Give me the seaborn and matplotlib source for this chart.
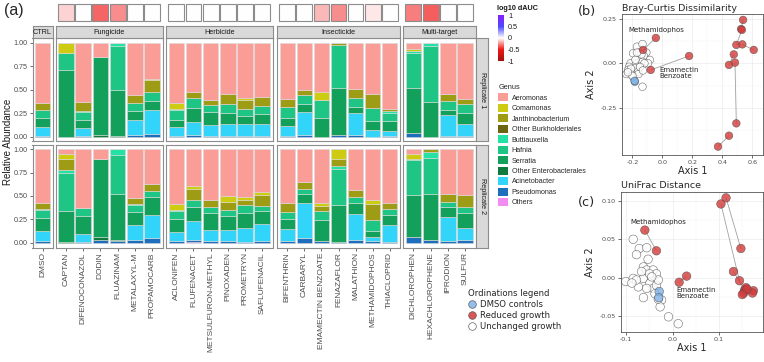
import numpy as np
import pandas as pd
import seaborn as sns
import matplotlib.pyplot as plt
from matplotlib.colors import LinearSegmentedColormap, Normalize
from matplotlib.cm import ScalarMappable
from matplotlib.patches import Patch
from matplotlib.lines import Line2D

sns.set_theme(style='white')
plt.rcParams['font.family'] = ['Liberation Sans', 'DejaVu Sans']

W, H = 764, 362


def box(x0, y0, x1, y1):
    # pixel box (top-left origin) -> figure fraction
    return [x0 / W, 1 - y1 / H, (x1 - x0) / W, (y1 - y0) / H]


# ---------------- (a) data ----------------
groups = ['CTRL', 'Fungicide', 'Herbicide', 'Insecticide', 'Multi-target']
group_sizes = [1, 6, 6, 7, 4]
compounds = ['DMSO',
             'CAPTAN', 'DIFENOCONAZOL', 'DODIN', 'FLUAZINAM', 'METALAXYL-M', 'PROPAMOCARB',
             'ACLONIFEN', 'FLUFENACET', 'METSULFURON-METHYL', 'PINOXADEN', 'PROMETRYN', 'SAFLUFENACIL',
             'BIFENTHRIN', 'CARBARYL', 'EMAMECTIN BENZOATE', 'FENAZAFLOR', 'MALATHION', 'METHAMIDOPHOS', 'THIACLOPRID',
             'DICHLOROPHEN', 'HEXACHLOROPHENE', 'IPRODION', 'SULFUR']

genera = ['Aeromonas', 'Comamonas', 'Janthinobacterium', 'Other Burkholderiales',
          'Buttiauxella', 'Hafnia', 'Serratia', 'Other Enterobacterales',
          'Acinetobacter', 'Pseudomonas', 'Others']
genus_colors = ['#F99D96', '#CDCB12', '#9E9B14', '#6B6412',
                '#24E2A6', '#1FC585', '#13A05B', '#0E7A3C',
                '#33D4FA', '#1D6FBE', '#F28CF0']

# replicate 1 (one value per compound, same order as `compounds`)
aeromonas_r1 = [0.64, 0, 0.63, 0.15, 0, 0.56, 0.39, 0.645, 0.52, 0.61, 0.55, 0.59, 0.58,
                0.60, 0.50, 0.52, 0, 0.49, 0.54, 0.70, 0.07, 0, 0.55, 0.60]
comamonas_r1 = [0, 0.11, 0, 0, 0, 0, 0.01, 0.06, 0, 0, 0, 0.02, 0,
                0, 0, 0.09, 0, 0, 0, 0, 0.02, 0, 0, 0]
janthino_r1 = [0.07, 0, 0.10, 0, 0, 0.08, 0.12, 0, 0.07, 0.05, 0.10, 0.09, 0.09,
               0.08, 0.06, 0, 0.02, 0.10, 0.15, 0.03, 0, 0, 0.07, 0.05]
otherburk_r1 = [0] * 24
buttiaux_r1 = [0.01, 0, 0.01, 0, 0.03, 0, 0, 0.005, 0, 0, 0, 0, 0,
               0, 0, 0, 0.005, 0, 0, 0.015, 0.02, 0.035, 0, 0]
hafnia_r1 = [0.08, 0.18, 0.08, 0, 0.47, 0.09, 0.10, 0.11, 0.10, 0.08, 0.10, 0.08, 0.09,
             0.12, 0.09, 0.19, 0.455, 0.09, 0.145, 0.09, 0.37, 0.595, 0.09, 0.10]
serratia_r1 = [0.10, 0.71, 0.09, 0.83, 0.49, 0.09, 0.10, 0.08, 0.15, 0.13, 0.11, 0.08, 0.10,
               0.085, 0.09, 0.20, 0.50, 0.07, 0.095, 0.105, 0.48, 0.37, 0.06, 0.115]
otherent_r1 = [0, 0, 0, 0.02, 0.01, 0, 0, 0, 0, 0, 0, 0, 0,
               0, 0, 0, 0, 0, 0, 0, 0, 0, 0, 0]
acineto_r1 = [0.09, 0, 0.085, 0, 0, 0.165, 0.255, 0.09, 0.14, 0.125, 0.13, 0.135, 0.13,
              0.11, 0.24, 0, 0, 0.235, 0.07, 0.055, 0, 0, 0.22, 0.125]
pseudo_r1 = [0.01, 0, 0.005, 0, 0, 0.015, 0.025, 0.01, 0.02, 0.005, 0.01, 0.005, 0.01,
             0.005, 0.02, 0, 0.02, 0.015, 0, 0.005, 0.04, 0, 0.01, 0.01]
others_r1 = [0] * 24

# replicate 2
aeromonas_r2 = [0.58, 0.05, 0.63, 0.11, 0, 0.52, 0.37, 0.59, 0.395, 0.54, 0.50, 0.51, 0.455,
                0.58, 0.35, 0.57, 0, 0.435, 0.54, 0.57, 0.05, 0, 0.48, 0.49]
comamonas_r2 = [0, 0.05, 0, 0, 0, 0, 0, 0.06, 0.035, 0, 0.06, 0.03, 0.035,
                0, 0, 0.04, 0.10, 0, 0.045, 0, 0.06, 0, 0, 0]
janthino_r2 = [0.06, 0.12, 0, 0, 0, 0.07, 0.08, 0, 0.115, 0.08, 0.09, 0.06, 0.12,
               0.09, 0.075, 0.05, 0.08, 0.08, 0.17, 0.07, 0, 0.025, 0.08, 0.13]
otherburk_r2 = [0] * 24
buttiaux_r2 = [0.01, 0.03, 0, 0, 0.06, 0.01, 0, 0.01, 0, 0, 0, 0, 0,
               0, 0, 0, 0.03, 0, 0, 0, 0.01, 0.065, 0, 0]
hafnia_r2 = [0.08, 0.41, 0.08, 0, 0.42, 0.07, 0.06, 0.09, 0.075, 0.065, 0.06, 0.08, 0.05,
             0.08, 0.055, 0.10, 0.39, 0.065, 0.115, 0.06, 0.37, 0.39, 0.055, 0.06]
serratia_r2 = [0.14, 0.33, 0.20, 0.83, 0.49, 0.14, 0.19, 0.13, 0.15, 0.175, 0.15, 0.16, 0.14,
               0.105, 0.10, 0.22, 0.395, 0.115, 0.07, 0.11, 0.45, 0.49, 0.11, 0.16]
otherent_r2 = [0, 0.01, 0, 0.03, 0.01, 0, 0, 0, 0, 0, 0, 0, 0,
               0, 0, 0, 0, 0, 0, 0, 0, 0, 0, 0]
acineto_r2 = [0.11, 0, 0.085, 0, 0, 0.16, 0.25, 0.10, 0.20, 0.12, 0.125, 0.15, 0.18,
              0.13, 0.365, 0, 0, 0.275, 0.04, 0.18, 0, 0, 0.255, 0.135]
pseudo_r2 = [0.02, 0, 0.005, 0.03, 0.02, 0.03, 0.05, 0.02, 0.02, 0.02, 0.015, 0.01, 0.02,
             0.015, 0.055, 0.02, 0.005, 0.03, 0.02, 0.01, 0.06, 0.03, 0.02, 0.025]
others_r2 = [0, 0, 0, 0, 0, 0, 0, 0, 0.01, 0, 0, 0, 0,
             0, 0, 0, 0, 0, 0, 0, 0, 0, 0, 0]

# log10 dAUC per compound (DMSO has no tile)
dauc = [np.nan, -0.10, 0, -0.33, -0.25, 0, 0, 0, 0, 0, 0, 0, 0,
        0, 0, -0.15, -0.25, 0, -0.05, 0, -0.28, -0.35, 0, 0]

# ---------------- (b) / (c) data ----------------
# reduced-growth points are listed as replicate pairs
bc_red_x = [-0.044, -0.129, 0.178, -0.078, 0.538, 0.525, 0.530, 0.493,
            0.609, 0.533, 0.484, 0.493, 0.371, 0.444, 0.476, 0.444]
bc_red_y = [0.142, 0.075, 0.041, -0.037, 0.243, 0.192, 0.187, 0.103,
            0.075, 0.106, 0.004, -0.336, -0.466, -0.405, 0.050, -0.009]
bc_ctrl_x = [-0.184, -0.186]
bc_ctrl_y = [-0.103, -0.098]
bc_unch_x = [-0.170, -0.133, -0.196, -0.156, -0.107, -0.124, -0.084, -0.213, -0.173, -0.133,
             -0.096, -0.222, -0.184, -0.147, -0.240, -0.200, -0.162, -0.133, -0.195, -0.229,
             -0.140, -0.180, -0.210, -0.120, -0.160, -0.200, -0.230, -0.150, -0.170, -0.130]
bc_unch_y = [0.093, 0.108, 0.056, 0.060, 0.060, 0.041, 0.019, 0.000, 0.000, 0.009,
             0.000, -0.019, -0.028, -0.019, -0.060, -0.060, -0.047, -0.131, -0.075, -0.037,
             0.050, 0.020, -0.030, 0.000, -0.060, -0.070, -0.050, -0.020, 0.060, -0.040]

uf_red_x = [-0.060, -0.035, 0.014, 0.030, 0.115, 0.147, 0.104, 0.144,
            0.131, 0.155, 0.158, 0.174, 0.153, 0.172, 0.160, 0.150]
uf_red_y = [0.062, 0.035, -0.006, 0.002, 0.104, 0.038, 0.096, -0.004,
            0.008, -0.016, -0.013, -0.017, -0.020, -0.020, -0.015, -0.022]
uf_ctrl_x = [-0.029, -0.030]
uf_ctrl_y = [-0.018, -0.026]
uf_unch_x = [-0.085, -0.072, -0.056, -0.078, -0.053, -0.063, -0.056, -0.042, -0.035, -0.101,
             -0.085, -0.063, -0.074, -0.063, -0.049, -0.042, -0.035, -0.031, -0.050, -0.024,
             -0.027, -0.009, 0.012, -0.045, -0.067, -0.056, -0.038, -0.078, -0.088, -0.031]
uf_unch_y = [0.050, 0.038, 0.039, 0.030, 0.024, 0.014, 0.010, 0.010, 0.005, -0.005,
             -0.001, -0.001, -0.012, -0.026, -0.007, -0.014, -0.010, -0.003, 0.005, -0.029,
             -0.038, -0.051, -0.060, 0.001, 0.008, -0.014, -0.021, -0.003, -0.007, -0.028]

# ---------------- build tables ----------------
rep1 = [aeromonas_r1, comamonas_r1, janthino_r1, otherburk_r1, buttiaux_r1, hafnia_r1,
        serratia_r1, otherent_r1, acineto_r1, pseudo_r1, others_r1]
rep2 = [aeromonas_r2, comamonas_r2, janthino_r2, otherburk_r2, buttiaux_r2, hafnia_r2,
        serratia_r2, otherent_r2, acineto_r2, pseudo_r2, others_r2]
comp_group = list(np.repeat(groups, group_sizes))
comp_pos = [i for n in group_sizes for i in range(n)]

rows = []
for rep, table in (('Replicate 1', rep1), ('Replicate 2', rep2)):
    for g, vals in zip(genera, table):
        for c, grp, p, v in zip(compounds, comp_group, comp_pos, vals):
            rows.append((rep, g, c, grp, p, v))
df = pd.DataFrame(rows, columns=['rep', 'genus', 'compound', 'group', 'pos', 'value'])

cmap = LinearSegmentedColormap.from_list(
    'dauc', [(0, '#A50F0F'), (0.25, '#F01818'), (0.5, '#FFFFFF'), (0.75, '#4B4BFF'), (1, '#8A1CFF')])
norm = Normalize(-1, 1)

fig = plt.figure(figsize=(W / 100, H / 100), dpi=100)

facet_x = [(32.5, 52.5), (55.5, 162.5), (166, 272.5), (277, 400), (403, 475.5)]
rep_y = {'Replicate 1': (38, 141.5), 'Replicate 2': (144.5, 247.5)}
edge_col = '#8c8c8c'
txt_col = '#4d4d4d'

for ri, rep in enumerate(['Replicate 1', 'Replicate 2']):
    y0, y1 = rep_y[rep]
    for fi, grp in enumerate(groups):
        x0, x1 = facet_x[fi]
        n = group_sizes[fi]
        ax = fig.add_axes(box(x0, y0, x1, y1))
        sub = df[(df['rep'] == rep) & (df['group'] == grp)]
        sns.histplot(data=sub, x='pos', hue='genus', weights='value', hue_order=genera,
                     palette=genus_colors, multiple='stack', discrete=True, shrink=0.9,
                     alpha=1, edgecolor='#d9d9d9', linewidth=0.4, legend=False, ax=ax)
        ax.set_xlim(-0.6, n - 0.4)
        ax.set_ylim(-0.05, 1.05)
        ax.set_xlabel('')
        ax.set_ylabel('')
        for s in ax.spines.values():
            s.set_color(edge_col)
            s.set_linewidth(0.8)
        ax.set_yticks([0, 0.25, 0.5, 0.75, 1.0])
        if fi == 0:
            ax.set_yticklabels(['0.00', '0.25', '0.50', '0.75', '1.00'])
            ax.tick_params(axis='y', left=True, length=2, width=0.5, color='#333333',
                           labelsize=5.2, labelcolor=txt_col, pad=1.5)
        else:
            ax.tick_params(axis='y', left=False, labelleft=False)
        ax.set_xticks(range(n))
        if ri == 1:
            names = [c for c, g in zip(compounds, comp_group) if g == grp]
            ax.set_xticklabels(names, rotation=90, va='top', ha='center')
            ax.tick_params(axis='x', bottom=True, length=2, width=0.5, color='#333333',
                           labelsize=6, labelcolor=txt_col, pad=1.5)
        else:
            ax.tick_params(axis='x', bottom=False, labelbottom=False)

        if ri == 0:
            # facet strip
            sax = fig.add_axes(box(x0, 26, x1, 38))
            sax.set_facecolor('#D9D9D9')
            sax.set_xticks([])
            sax.set_yticks([])
            for s in sax.spines.values():
                s.set_color(edge_col)
                s.set_linewidth(0.8)
            sax.text(0.5, 0.5, grp, ha='center', va='center', fontsize=5.2,
                     color='#1a1a1a', transform=sax.transAxes)
            # dAUC tiles
            if grp != 'CTRL':
                vals = [v for v, g in zip(dauc, comp_group) if g == grp]
                tax = fig.add_axes(box(x0, 3.5, x1, 20.5))
                tax.bar(range(n), [1] * n, width=0.92, bottom=0, color=cmap(norm(vals)),
                        edgecolor='#8c8c8c', linewidth=0.8, clip_on=False)
                tax.set_xlim(-0.6, n - 0.4)
                tax.set_ylim(0, 1)
                tax.axis('off')

    # replicate strip
    rax = fig.add_axes(box(476.5, y0, 488, y1))
    rax.set_facecolor('#D9D9D9')
    rax.set_xticks([])
    rax.set_yticks([])
    for s in rax.spines.values():
        s.set_color(edge_col)
        s.set_linewidth(0.8)
    rax.text(0.5, 0.5, rep, rotation=-90, ha='center', va='center', fontsize=5.2,
             color='#1a1a1a', transform=rax.transAxes)

fig.text(8 / W, 1 - 142 / H, 'Relative Abundance', rotation=90, ha='center', va='center',
         fontsize=7, color='#1a1a1a')
fig.text(4 / W, 1 - 11 / H, '(a)', ha='left', va='center', fontsize=11.5)

# colorbar
cax = fig.add_axes(box(498, 15, 504, 61))
cb = fig.colorbar(ScalarMappable(norm=norm, cmap=cmap), cax=cax)
cb.set_ticks([-1, -0.5, 0, 0.5, 1])
cb.set_ticklabels(['-1', '-0.5', '0', '0.5', '1'])
cb.outline.set_visible(False)
cax.tick_params(length=1.5, width=0.5, color='white', labelsize=5.2, pad=1.5,
                labelcolor='#1a1a1a')
fig.text(497 / W, 1 - 9 / H, 'log10 dAUC', ha='left', va='center', fontsize=5.2,
         fontweight='bold', color='#1a1a1a')

# genus legend
g_handles = [Patch(facecolor=c, edgecolor='none') for c in genus_colors]
fig.legend(g_handles, genera, title='Genus', loc='upper left',
           bbox_to_anchor=(494 / W, 1 - 80 / H), frameon=False, fontsize=5.1,
           title_fontsize=5.3, handlelength=1.35, handleheight=1.35, labelspacing=0.3,
           handletextpad=0.55, borderpad=0.1, alignment='left')


# ---------------- (b) / (c) ----------------
def ordination(ax, rx, ry, cx, cy, ux, uy, size):
    for i in range(0, len(rx), 2):
        ax.plot(rx[i:i + 2], ry[i:i + 2], color='#a0a0a0', lw=0.6, zorder=1)
    pts = pd.DataFrame({
        'x': ux + cx + rx,
        'y': uy + cy + ry,
        'group': ['Unchanged growth'] * len(ux) + ['DMSO controls'] * len(cx)
                 + ['Reduced growth'] * len(rx)})
    sns.scatterplot(data=pts, x='x', y='y', hue='group',
                    palette={'Unchanged growth': '#ffffff', 'DMSO controls': '#7fb3e6',
                             'Reduced growth': '#d43a3a'},
                    s=size, alpha=0.8, edgecolor='#4a4a4a', linewidth=0.4,
                    legend=False, ax=ax, zorder=2)
    for s in ax.spines.values():
        s.set_color('#555555')
        s.set_linewidth(0.6)
    ax.grid(True, which='major', color='#ebebeb', lw=0.5)
    ax.grid(True, which='minor', color='#f4f4f4', lw=0.3)
    ax.set_axisbelow(True)
    ax.tick_params(which='major', length=2, width=0.5, color='#333333', labelsize=4.6,
                   labelcolor=txt_col, pad=1.5, left=True, bottom=True)
    ax.tick_params(which='minor', length=0)
    ax.set_xlabel('Axis 1', fontsize=7, family='DejaVu Sans', labelpad=1)
    ax.set_ylabel('Axis 2', fontsize=7, family='DejaVu Sans', labelpad=3)
    for lab in ax.get_xticklabels() + ax.get_yticklabels():
        lab.set_family('DejaVu Sans')


bax = fig.add_axes(box(621.5, 14, 763, 155))
ordination(bax, bc_red_x, bc_red_y, bc_ctrl_x, bc_ctrl_y, bc_unch_x, bc_unch_y, 30)
bax.set_xlim(-0.273, 0.671)
bax.set_ylim(-0.513, 0.276)
bax.set_xticks([-0.2, 0.0, 0.2, 0.4, 0.6])
bax.set_xticklabels(['-0.2', '0.0', '0.2', '0.4', '0.6'], family='DejaVu Sans')
bax.set_xticks([-0.1, 0.1, 0.3, 0.5], minor=True)
bax.set_yticks([-0.25, 0.0, 0.25])
bax.set_yticklabels(['-0.25', '0.00', '0.25'], family='DejaVu Sans')
bax.set_yticks([-0.375, -0.125, 0.125], minor=True)
bax.set_title('Bray-Curtis Dissimilarity', loc='left', fontsize=6.8, family='DejaVu Sans',
              pad=2.5)
bax.text(-0.229, 0.187, 'Methamidophos', fontsize=5, family='DejaVu Sans', va='center')
bax.text(-0.018, -0.02, 'Emamectin\nBenzoate', fontsize=5, family='DejaVu Sans', va='top',
         linespacing=1.0)

cax2 = fig.add_axes(box(620.7, 191.7, 762.7, 331.7))
ordination(cax2, uf_red_x, uf_red_y, uf_ctrl_x, uf_ctrl_y, uf_unch_x, uf_unch_y, 38)
cax2.set_xlim(-0.112, 0.194)
cax2.set_ylim(-0.0704, 0.112)
cax2.set_xticks([-0.1, 0.0, 0.1])
cax2.set_xticklabels(['-0.1', '0.0', '0.1'], family='DejaVu Sans')
cax2.set_xticks([-0.05, 0.05, 0.15], minor=True)
cax2.set_yticks([-0.05, 0.0, 0.05, 0.10])
cax2.set_yticklabels(['-0.05', '0.00', '0.05', '0.10'], family='DejaVu Sans')
cax2.set_yticks([-0.025, 0.025, 0.075], minor=True)
cax2.set_title('UniFrac Distance', loc='left', fontsize=6.8, family='DejaVu Sans', pad=2.5)
cax2.text(-0.092, 0.073, 'Methamidophos', fontsize=5, family='DejaVu Sans', va='center')
cax2.text(0.0072, -0.0125, 'Emamectin\nBenzoate', fontsize=5, family='DejaVu Sans', va='top',
          linespacing=1.0)

fig.text(578 / W, 1 - 12 / H, '(b)', fontsize=9.3, family='DejaVu Sans', va='center')
fig.text(578 / W, 1 - 203 / H, '(c)', fontsize=9.3, family='DejaVu Sans', va='center')

# ordinations legend
o_handles = [Line2D([], [], ls='', marker='o', markersize=5.5, markerfacecolor=fc,
                    markeredgecolor='#4a4a4a', markeredgewidth=0.5, alpha=0.85)
             for fc in ['#7fb3e6', '#d43a3a', '#ffffff']]
fig.legend(o_handles, ['DMSO controls', 'Reduced growth', 'Unchanged growth'],
           title='Ordinations legend', loc='upper left', bbox_to_anchor=(463 / W, 1 - 284 / H),
           frameon=False, prop={'family': 'DejaVu Sans', 'size': 6.1},
           title_fontproperties={'family': 'DejaVu Sans', 'size': 6.1},
           handlelength=1.0, handletextpad=0.35, labelspacing=0.25, borderpad=0.1,
           alignment='left')

fig.savefig('out.png', dpi=100)
